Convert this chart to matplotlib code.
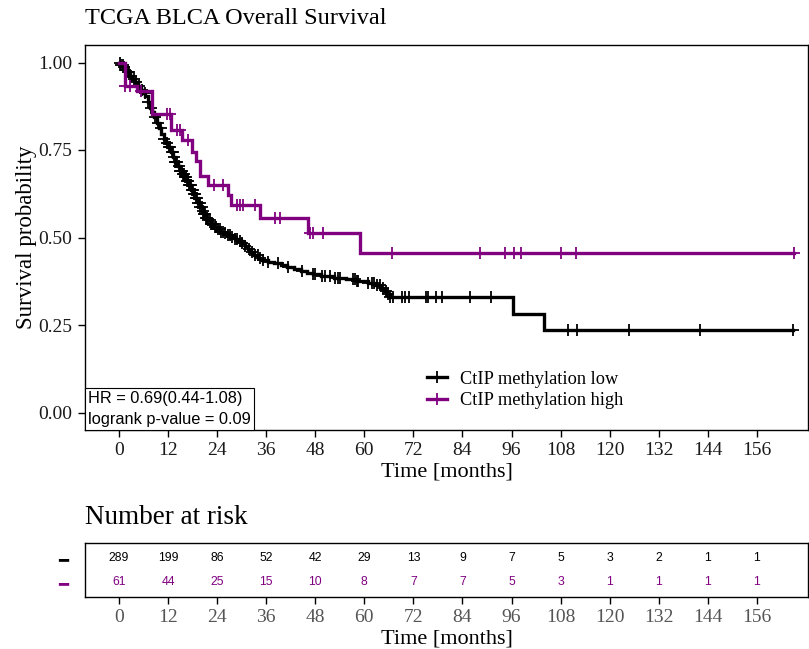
import numpy as np
import matplotlib.pyplot as plt
from matplotlib.lines import Line2D
from matplotlib.offsetbox import AnchoredText

# Kaplan-Meier steps (months, survival after the step)
low_t = [0, 0.5, 1.0, 1.5, 2.0, 2.7, 3.3, 4.0, 4.7, 5.3, 5.9, 6.4, 7.0, 7.6, 8.1,
         8.6, 9.2, 9.8, 10.4, 11.0, 11.6, 12.1, 12.7, 13.3, 13.8, 14.4, 14.9, 15.5,
         16.1, 16.6, 17.1, 17.7, 18.2, 18.7, 19.3, 19.8, 20.3, 20.8, 21.3, 21.8,
         22.5, 23.3, 24.1, 24.8, 25.6, 26.5, 27.4, 28.3, 29.2, 30.0, 30.8, 31.6,
         32.4, 33.1, 34.0, 35.0, 36.5, 38.0, 39.6, 41.2, 42.8, 44.4, 46.0, 47.5,
         49.5, 52.5, 55.5, 58.0, 61.0, 62.5, 64.0, 65.0, 65.6, 66.2, 96.4, 104.0]
low_s = [1.0, 0.993, 0.986, 0.979, 0.972, 0.962, 0.952, 0.943, 0.933, 0.922, 0.913,
         0.903, 0.887, 0.870, 0.858, 0.843, 0.826, 0.812, 0.795, 0.782, 0.770,
         0.758, 0.743, 0.729, 0.716, 0.703, 0.691, 0.681, 0.672, 0.662, 0.650,
         0.637, 0.625, 0.612, 0.600, 0.588, 0.577, 0.566, 0.557, 0.549, 0.540,
         0.531, 0.523, 0.517, 0.512, 0.507, 0.502, 0.496, 0.490, 0.483, 0.476,
         0.468, 0.458, 0.449, 0.442, 0.436, 0.431, 0.426, 0.421, 0.415, 0.410,
         0.405, 0.400, 0.395, 0.390, 0.385, 0.381, 0.376, 0.370, 0.363, 0.355,
         0.347, 0.338, 0.329, 0.282, 0.236]
low_cens = [0.3, 0.6, 0.9, 1.2, 1.6, 2.1, 2.5, 3.0, 3.6, 4.2, 5.0, 5.6, 6.3, 7.2,
            7.9, 8.7, 9.5, 10.3, 11.1, 11.8, 12.3, 12.6, 12.9, 13.2, 13.5, 13.8,
            14.0, 14.3, 14.6, 14.9, 15.2, 15.4, 15.7, 15.9, 16.2, 16.4, 16.7, 16.9,
            17.2, 17.4, 17.6, 17.9, 18.1, 18.4, 18.6, 18.9, 19.1, 19.4, 19.7, 19.9,
            20.2, 20.5, 20.8, 21.0, 21.3, 21.6, 21.9, 22.2, 22.5, 22.8, 23.1, 23.4,
            23.7, 24.2, 24.6, 25.0, 25.5, 26.0, 26.6, 27.1, 27.7, 28.3, 28.9, 29.6,
            30.2, 30.9, 31.7, 32.5, 33.2, 33.9, 34.6, 35.3, 36.5, 38.9, 41.4, 44.7,
            47.5, 47.9, 49.6, 50.4, 51.6, 52.8, 53.6, 54.0, 57.3, 57.7, 58.1, 58.5,
            61.0, 61.8, 62.4, 63.0, 63.8, 64.6, 65.2, 65.8, 66.3, 67.1, 69.1, 69.9,
            71.0, 75.1, 75.6, 77.5, 78.9, 85.8, 91.1, 109.9, 112.1, 124.8, 142.1,
            164.9]

high_t = [0, 1.5, 4.3, 8.0, 12.8, 15.4, 17.8, 18.9, 19.8, 21.8, 26.6, 27.5, 34.5,
          46.2, 59.0]
high_s = [1.0, 0.934, 0.918, 0.852, 0.806, 0.778, 0.745, 0.720, 0.677, 0.649,
          0.622, 0.594, 0.555, 0.513, 0.457]
high_cens = [1.6, 2.7, 5.5, 11.7, 12.5, 14.1, 15.0, 17.0, 23.2, 25.5, 28.8, 29.6,
             30.4, 33.3, 38.1, 39.5, 46.7, 47.4, 49.9, 66.7, 88.3, 94.3, 96.7, 98.3,
             108.2, 111.7, 165.0]

risk_times = [0, 12, 24, 36, 48, 60, 72, 84, 96, 108, 120, 132, 144, 156]
risk_low = [289, 199, 86, 52, 42, 29, 13, 9, 7, 5, 3, 2, 1, 1]
risk_high = [61, 44, 25, 15, 10, 8, 7, 7, 5, 3, 1, 1, 1, 1]

BLACK = 'black'
PURPLE = '#800080'
SERIF = 'Liberation Serif'
SANS = 'Liberation Sans'
XLIM = (-8.3, 168.5)


def km_at(t, times, surv):
    idx = np.searchsorted(times, t, side='right') - 1
    return np.asarray(surv)[idx]


def draw_curve(ax, times, surv, cens, color):
    tt = list(times) + [max(cens)]
    ss = list(surv) + [surv[-1]]
    ax.step(tt, ss, where='post', color=color, lw=2.4, solid_joinstyle='miter')
    ax.plot(cens, km_at(np.array(cens), times, surv), ls='none', marker='+',
            ms=9, mew=1.3, color=color)


fig = plt.figure(figsize=(8.09, 6.49), dpi=100)
ax = fig.add_axes([85 / 809, 1 - 430 / 649, 723 / 809, 385 / 649])

draw_curve(ax, low_t, low_s, low_cens, BLACK)
draw_curve(ax, high_t, high_s, high_cens, PURPLE)

ax.set_xlim(*XLIM)
ax.set_ylim(-0.05, 1.05)
ax.set_xticks(risk_times)
ax.set_yticks([0, 0.25, 0.5, 0.75, 1.0])
ax.set_yticklabels(['0.00', '0.25', '0.50', '0.75', '1.00'])
ax.tick_params(direction='out', length=5, width=1, labelsize=14, colors='black')
ax.tick_params(axis='y', pad=4)
for lab in ax.get_xticklabels() + ax.get_yticklabels():
    lab.set_family(SERIF)
    lab.set_color('#1a1a1a')
for sp in ax.spines.values():
    sp.set_linewidth(1.0)
ax.set_xlabel('Time [months]', family=SERIF, fontsize=16, labelpad=3)
ax.set_ylabel('Survival probability', family=SERIF, fontsize=16.5, labelpad=1)
fig.text(85 / 809, 1 - 18 / 649, 'TCGA BLCA Overall Survival', family=SERIF,
         fontsize=17.5, va='center', ha='left')

handles = [Line2D([], [], color=BLACK, lw=2.4, marker='+', ms=9, mew=1.3),
           Line2D([], [], color=PURPLE, lw=2.4, marker='+', ms=9, mew=1.3)]
ax.legend(handles, ['CtIP methylation low', 'CtIP methylation high'],
          loc='upper left', bbox_to_anchor=(0.463, 0.173), frameon=False,
          prop={'family': SERIF, 'size': 13.2}, handlelength=1.1,
          handletextpad=0.7, labelspacing=0.25, borderaxespad=0)

hr = AnchoredText('HR = 0.69(0.44-1.08)\nlogrank p-value = 0.09', loc='lower left',
                  prop={'family': SANS, 'size': 11.8, 'linespacing': 1.45},
                  borderpad=0, pad=0.2, frameon=True)
hr.patch.set_edgecolor('black')
hr.patch.set_linewidth(0.8)
hr.patch.set_boxstyle('square,pad=0')
ax.add_artist(hr)

# number at risk table
rax = fig.add_axes([85 / 809, 1 - 597 / 649, 723 / 809, 54 / 649])
for t, n in zip(risk_times, risk_low):
    rax.text(t, 1, str(n), ha='center', va='center', family=SANS, fontsize=8.8,
             color=BLACK)
for t, n in zip(risk_times, risk_high):
    rax.text(t, 0, str(n), ha='center', va='center', family=SANS, fontsize=8.8,
             color=PURPLE)
rax.set_xlim(*XLIM)
rax.set_ylim(-0.6, 1.6)
rax.set_xticks(risk_times)
rax.set_yticks([1, 0])
rax.set_yticklabels(['\u2501', '\u2501'], fontsize=12, family='DejaVu Sans',
                    fontweight='bold')
for lab, c in zip(rax.get_yticklabels(), [BLACK, PURPLE]):
    lab.set_color(c)
rax.tick_params(axis='y', length=0, pad=12)
rax.tick_params(axis='x', direction='out', length=5, width=1, labelsize=14,
                labelcolor='#555555')
for lab in rax.get_xticklabels():
    lab.set_family(SERIF)
for sp in rax.spines.values():
    sp.set_linewidth(1.0)
rax.set_xlabel('Time [months]', family=SERIF, fontsize=16, labelpad=3)
fig.text(85 / 809, 1 - 517 / 649, 'Number at risk', family=SERIF, fontsize=19.5,
         va='center', ha='left')

fig.savefig('out.png', dpi=100)
